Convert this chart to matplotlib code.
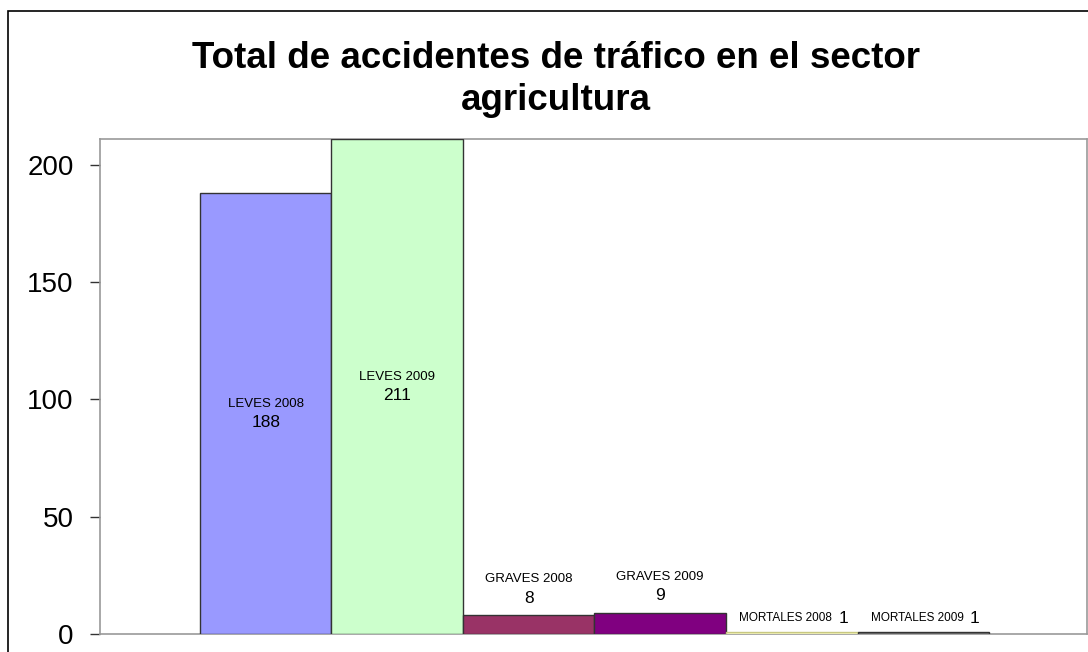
import matplotlib
matplotlib.use("Agg")
import matplotlib.pyplot as plt
from matplotlib.patches import Rectangle

plt.rcParams['font.family'] = ['Liberation Sans', 'DejaVu Sans']

categories = ["LEVES 2008", "LEVES 2009", "GRAVES 2008", "GRAVES 2009", "MORTALES 2008", "MORTALES 2009"]
values = [188, 211, 8, 9, 1, 1]
colors = ["#9999FF", "#CCFFCC", "#993366", "#800080", "#FFFFCC", "#808080"]
edgecolors = ["#333333", "#333333", "#333333", "#333333", "#C8C880", "#333333"]
yticks = [0, 50, 100, 150, 200]
title = "Total de accidentes de tráfico en el sector\nagricultura"

W, H = 1088, 652
fig = plt.figure(figsize=(W / 100, H / 100), dpi=100)
fig.patch.set_facecolor("white")

# outer chart frame
fig.patches.append(Rectangle((8 / W, -0.1), 1.2, 1 - 11 / H + 0.1, transform=fig.transFigure,
                             fill=False, edgecolor="black", linewidth=1.2))

ax = fig.add_axes([100 / W, (H - 634) / H, 987 / W, (634 - 139) / H])
x = list(range(len(values)))
ax.bar(x, values, width=1.0, color=colors, edgecolor=edgecolors, linewidth=1.0, zorder=3)

ax.set_xlim(-0.5 - 0.76, len(values) - 0.5 + 0.745)
ax.set_ylim(0, 211)
ax.set_yticks(yticks)
ax.set_xticks([])
ax.tick_params(axis='y', direction='out', length=7, width=1, colors='#333333', labelsize=20,
               labelcolor='black', pad=12)
for s in ax.spines.values():
    s.set_color('#999999')
    s.set_linewidth(1.2)

px = 211 / (634 - 139)  # data units per pixel
for i, (c, v) in enumerate(zip(categories, values)):
    if v > 100:
        ax.text(i, v / 2 + 9 * px, c, ha='center', va='center', fontsize=9.5, zorder=4)
        ax.text(i, v / 2 - 9 * px, str(v), ha='center', va='center', fontsize=12.5, zorder=4)
    elif v > 5:
        ax.text(i, v + 36 * px, c, ha='center', va='center', fontsize=9.5, zorder=4)
        ax.text(i, v + 17 * px, str(v), ha='center', va='center', fontsize=12.5, zorder=4)
    else:
        ax.text(i - 0.045, v + 14 * px, c, ha='center', va='center', fontsize=8.5, zorder=4)
        ax.text(i + 0.39, v + 13 * px, str(v), ha='center', va='center', fontsize=12.5, zorder=4)

fig.text(556 / W, 1 - 41 / H, title, ha='center', va='top', fontsize=26.5, fontweight='bold',
         linespacing=1.27)

fig.savefig("out.png", dpi=100)
